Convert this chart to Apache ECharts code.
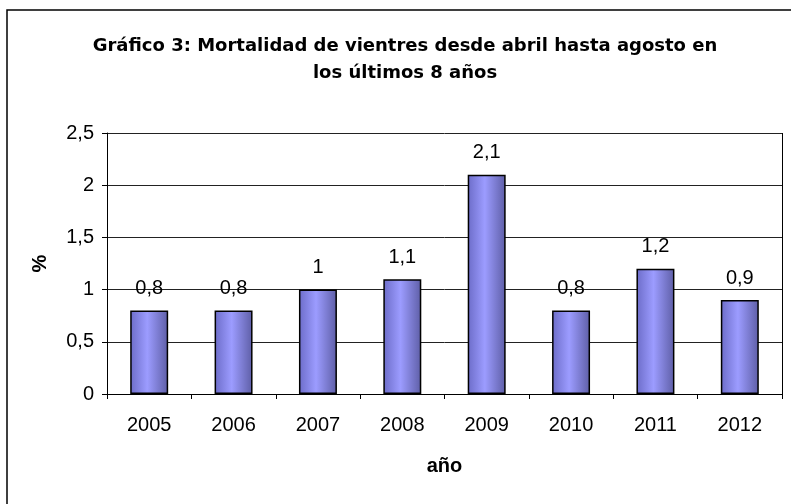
<!DOCTYPE html>
<html>
<head>
<meta charset="utf-8">
<script src="https://cdn.jsdelivr.net/npm/echarts@6/dist/echarts.min.js"></script>
<style>
  html, body { margin: 0; padding: 0; background: #fff; }
  #chart { width: 791px; height: 504px; }
</style>
</head>
<body>
<div id="chart"></div>
<script>
// datos
var years = ['2005', '2006', '2007', '2008', '2009', '2010', '2011', '2012'];
var mortalidad = [0.8, 0.8, 1, 1.1, 2.1, 0.8, 1.2, 0.9];

var font = '"Liberation Sans", Arial, sans-serif';
var fmtComma = function (v) { return String(v).replace('.', ','); };

var myChart = echarts.init(document.getElementById('chart'));
myChart.setOption({
    animation: false,
    backgroundColor: '#fff',
    textStyle: { fontFamily: font },
    title: {
        text: 'Gráfico 3: Mortalidad de vientres desde abril hasta agosto en\nlos últimos 8 años',
        left: 400,
        top: 28,
        textAlign: 'center',
        textStyle: { fontFamily: '"DejaVu Sans", sans-serif', fontSize: 18, fontWeight: 'bold', color: '#000', lineHeight: 27 }
    },
    grid: { left: 107, right: 9, top: 133, bottom: 110, containLabel: false, show: false },
    graphic: [
        // borde exterior
        { type: 'rect', shape: { x: 7, y: 10, width: 800, height: 510 }, style: { fill: 'none', stroke: '#000', lineWidth: 1.5 }, silent: true },
        // borde derecho del área de trazado
        { type: 'line', shape: { x1: 782.5, y1: 133, x2: 782.5, y2: 394 }, style: { stroke: '#000', lineWidth: 1 }, silent: true }
    ],
    xAxis: {
        type: 'category',
        data: years,
        name: 'año',
        nameLocation: 'middle',
        nameGap: 62,
        nameTextStyle: { fontFamily: font, fontSize: 20, fontWeight: 'bold', color: '#000' },
        axisLine: { lineStyle: { color: '#000', width: 1 } },
        axisTick: { show: true, length: 5, lineStyle: { color: '#000' } },
        axisLabel: { fontFamily: font, fontSize: 20, color: '#000', margin: 21 }
    },
    yAxis: {
        type: 'value',
        min: 0,
        max: 2.5,
        interval: 0.5,
        name: '%',
        nameLocation: 'middle',
        nameGap: 57,
        nameRotate: 90,
        nameTextStyle: { fontFamily: font, fontSize: 20, fontWeight: 'bold', color: '#000' },
        axisLine: { show: true, lineStyle: { color: '#000', width: 1 } },
        axisTick: { show: true, length: 5, inside: false, lineStyle: { color: '#000' } },
        axisLabel: { fontFamily: font, fontSize: 20, color: '#000', margin: 13, formatter: fmtComma },
        splitLine: { show: true, lineStyle: { color: '#222', width: 1 } }
    },
    series: [{
        type: 'bar',
        data: mortalidad,
        barWidth: '45%',
        itemStyle: {
            color: new echarts.graphic.LinearGradient(0, 0, 1, 0, [
                { offset: 0, color: '#6c6cc8' },
                { offset: 0.45, color: '#9c9cff' },
                { offset: 1, color: '#5e5ea6' }
            ]),
            borderColor: '#000',
            borderWidth: 1.5
        },
        label: {
            show: true,
            position: 'top',
            distance: 12,
            fontFamily: font,
            fontSize: 20,
            color: '#000',
            formatter: function (p) { return fmtComma(p.value); }
        }
    }]
});
</script>
</body>
</html>
